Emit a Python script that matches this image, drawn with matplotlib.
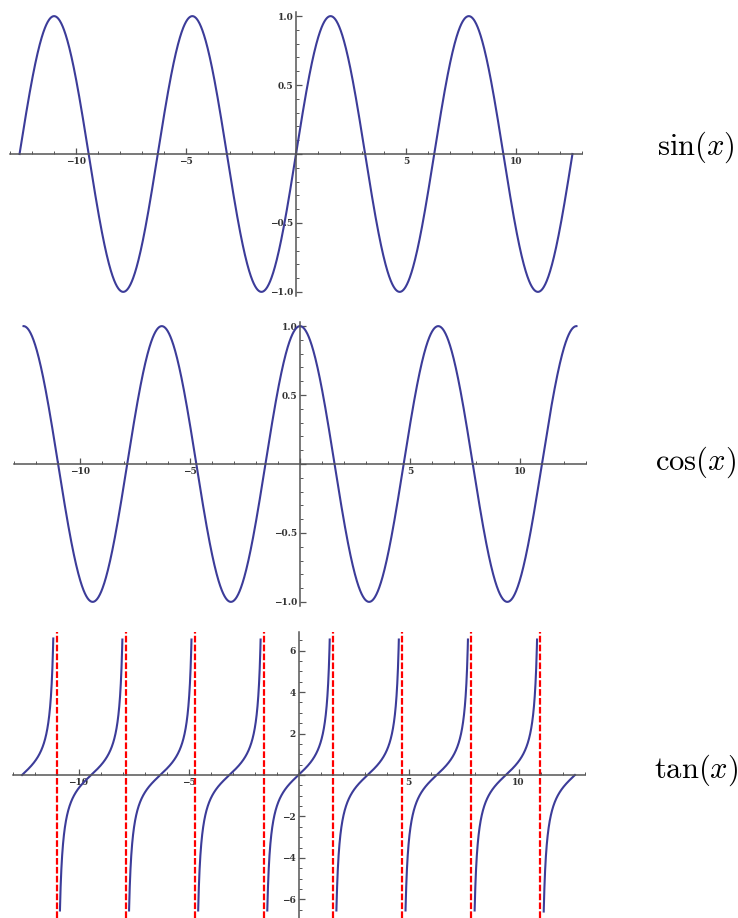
import numpy as np
import matplotlib.pyplot as plt
from matplotlib.ticker import MultipleLocator, FuncFormatter

plt.rcParams['mathtext.fontset'] = 'cm'

# domain and functions
x_min, x_max = -4 * np.pi, 4 * np.pi
funcs = [np.sin, np.cos, np.tan]
labels = [r'$\sin(x)$', r'$\cos(x)$', r'$\tan(x)$']
ylims = [(-1.03, 1.03), (-1.03, 1.03), (-6.9, 6.9)]
y_major = [0.5, 0.5, 2]
y_minor = [0.1, 0.1, 0.5]
tan_clip = 6.62
# vertical asymptotes of tan on the domain
asymptotes = [-3.5 * np.pi, -2.5 * np.pi, -1.5 * np.pi, -0.5 * np.pi,
              0.5 * np.pi, 1.5 * np.pi, 2.5 * np.pi, 3.5 * np.pi]

line_color = '#3c3c99'
axis_color = '#555555'
W, H = 738, 918

fig = plt.figure(figsize=(W / 100, H / 100), dpi=100)

# axes boxes in pixels: left, top, right, bottom
boxes = [(10, 12, 582, 296), (14, 322, 586, 606), (12.5, 632, 584.5, 918)]
label_y = [147, 462, 770]


def fmt(v, pos):
    if abs(v) < 1e-9:
        return ''
    s = ('%g' % v) if float(v).is_integer() and abs(v) >= 2 else ('%.1f' % v)
    return s.replace('-', '\u2212')


for i, (f, lab) in enumerate(zip(funcs, labels)):
    l, t, r, b = boxes[i]
    ax = fig.add_axes([l / W, 1 - b / H, (r - l) / W, (b - t) / H])
    ax.set_xlim(-13, 13)
    ax.set_ylim(*ylims[i])

    if f is np.tan:
        edges = [x_min] + asymptotes + [x_max]
        for a, c in zip(edges[:-1], edges[1:]):
            xs = np.linspace(a + 1e-3, c - 1e-3, 1500)
            ys = np.tan(xs)
            keep = np.abs(ys) <= tan_clip
            ax.plot(xs[keep], ys[keep], color=line_color, lw=1.5)
        for a in asymptotes:
            ax.axvline(a, color='red', lw=1.6, ls=(0, (3, 1)))
    else:
        xs = np.linspace(x_min, x_max, 2000)
        ax.plot(xs, f(xs), color=line_color, lw=1.5)

    for s in ['top', 'right']:
        ax.spines[s].set_visible(False)
    ax.spines['left'].set_position(('data', 0))
    ax.spines['bottom'].set_position(('data', 0))
    for s in ['left', 'bottom']:
        ax.spines[s].set_color(axis_color)
        ax.spines[s].set_linewidth(1.1)
    ax.patch.set_visible(False)

    ax.xaxis.set_major_locator(MultipleLocator(5))
    ax.xaxis.set_minor_locator(MultipleLocator(1))
    ax.yaxis.set_major_locator(MultipleLocator(y_major[i]))
    ax.yaxis.set_minor_locator(MultipleLocator(y_minor[i]))
    ax.xaxis.set_major_formatter(FuncFormatter(fmt))
    ax.yaxis.set_major_formatter(FuncFormatter(fmt))
    ax.tick_params(which='both', direction='in', color=axis_color,
                   labelsize=6.5, labelcolor='#333333', pad=2)
    ax.tick_params(which='major', length=4, width=0.9)
    ax.tick_params(which='minor', length=2.5, width=0.7)
    for tl in ax.get_xticklabels() + ax.get_yticklabels():
        tl.set_fontfamily('DejaVu Serif')
        tl.set_fontweight('bold')

    fig.text(696 / W, 1 - label_y[i] / H, lab, fontsize=22,
             ha='center', va='center')

fig.savefig('out.png', dpi=100)
